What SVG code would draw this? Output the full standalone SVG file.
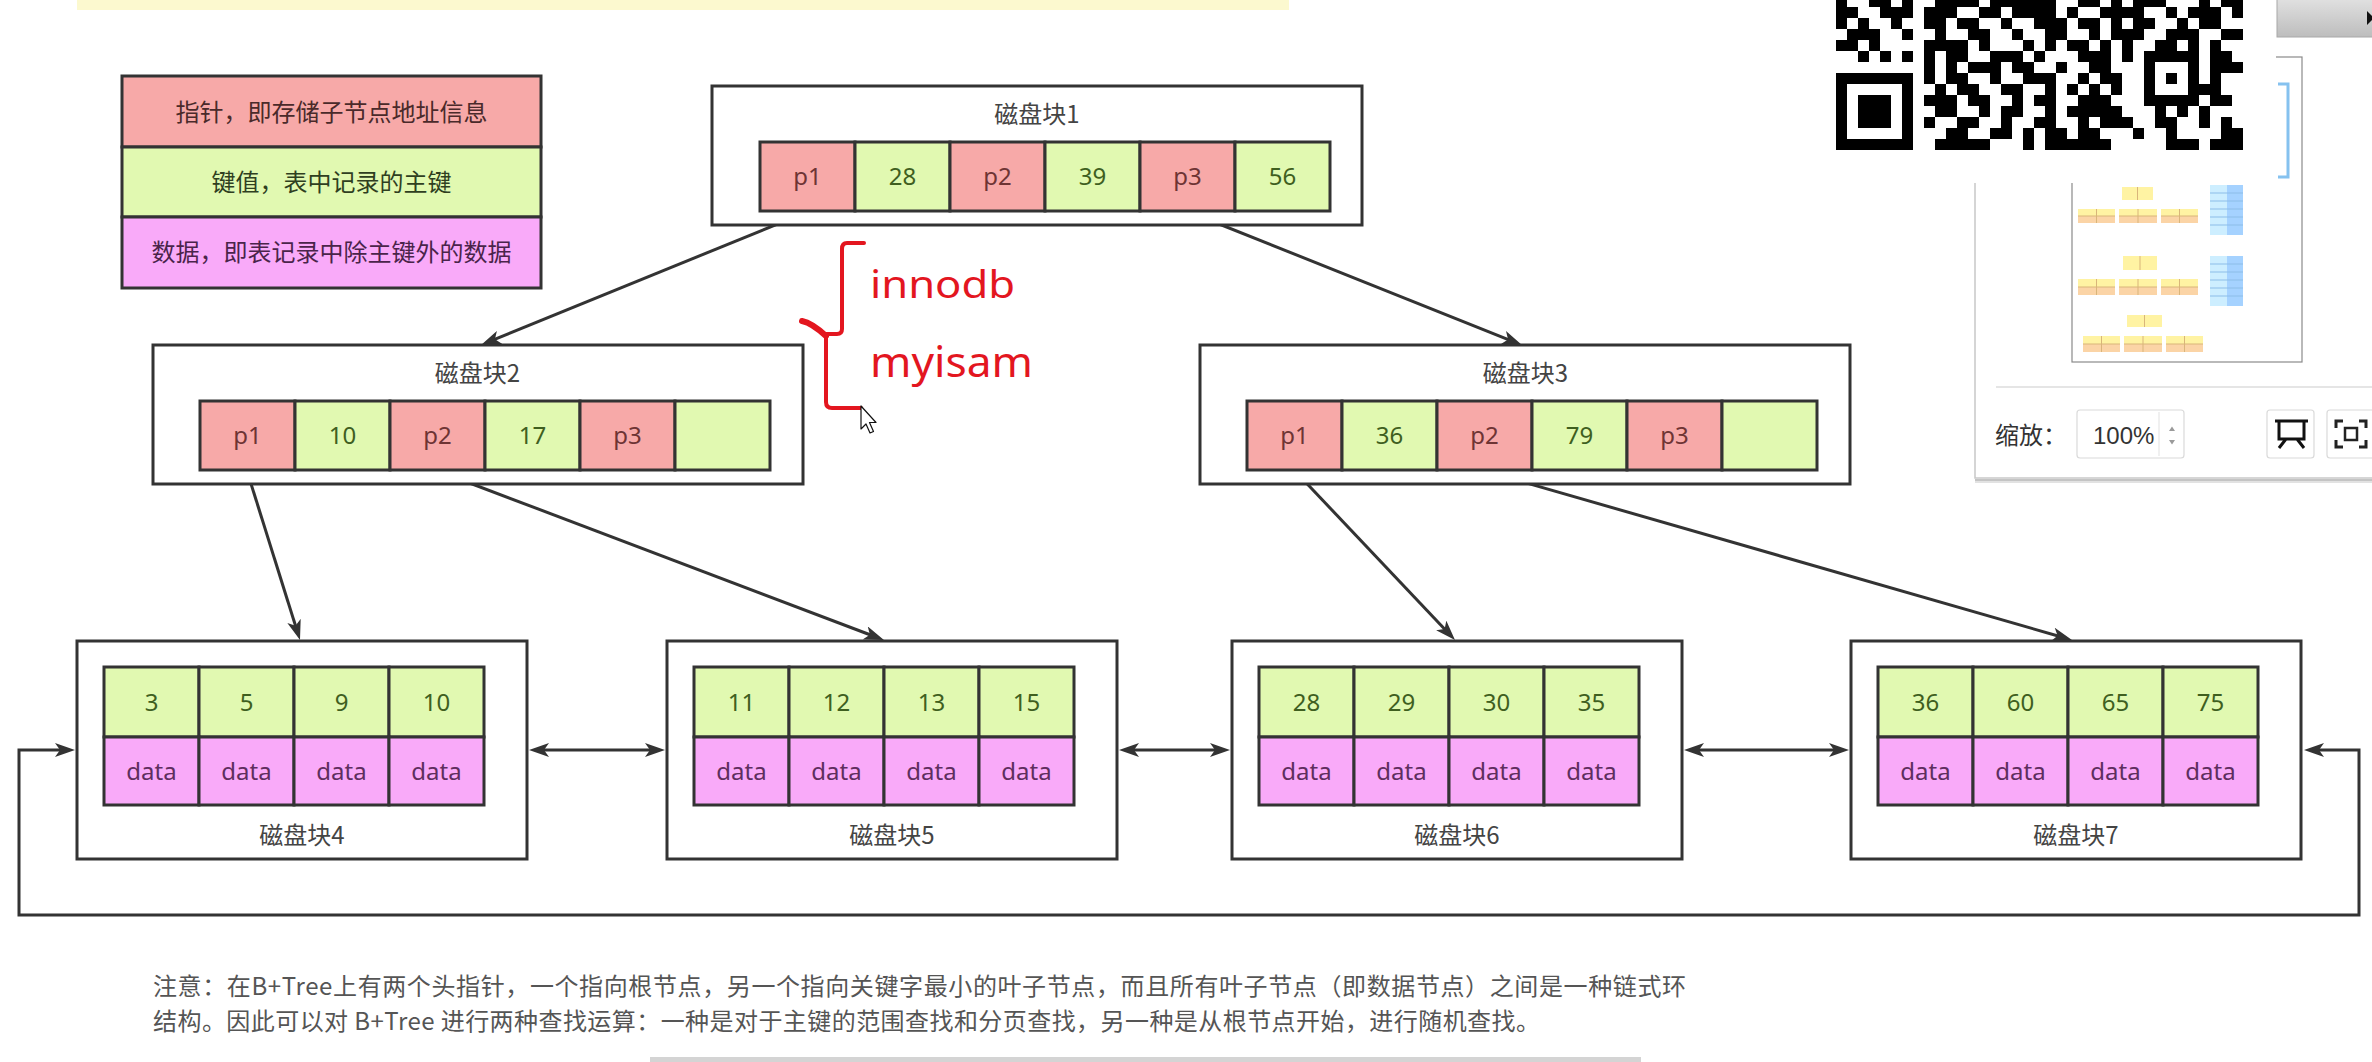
<svg xmlns="http://www.w3.org/2000/svg" width="2372" height="1062" viewBox="0 0 2372 1062">
<style>
.blk{fill:#fff;stroke:#333;stroke-width:3}
.pk{fill:#f7a9a8;stroke:#333;stroke-width:3}
.gn{fill:#e1f9b1;stroke:#333;stroke-width:3}
.mg{fill:#f9aaf9;stroke:#333;stroke-width:3}
.t{font-family:"Noto Sans","Noto Sans CJK SC",sans-serif;font-size:24px;text-anchor:middle}
.cj{font-family:"Noto Sans CJK SC",sans-serif;font-size:24px;text-anchor:middle;fill:#444}
.tp{fill:#6e3434}.tg{fill:#3f5f1f}.tm{fill:#5e2e5e}
.ln{fill:none;stroke:#333;stroke-width:3;stroke-linejoin:miter}
.red{fill:none;stroke:#e3161f;stroke-width:4;stroke-linecap:round;stroke-linejoin:round}
.rt{font-family:"Noto Sans","Liberation Sans",sans-serif;fill:#e3161f}
.mm-y{fill:#fff3a3}.mm-o{fill:#fbd4a6}.mm-l{stroke:#d9b57a;stroke-width:1;fill:none}
</style>
<defs>
<marker id="ar" viewBox="0 0 20 14" refX="10" refY="7" markerWidth="20" markerHeight="14" markerUnits="userSpaceOnUse" orient="auto-start-reverse">
<path d="M0,0 L20,7 L0,14 L5,7 z" fill="#333"/>
</marker>
<linearGradient id="btn" x1="0" y1="0" x2="0" y2="1"><stop offset="0" stop-color="#e4e4e4"/><stop offset="1" stop-color="#bdbdbd"/></linearGradient>
</defs>
<rect width="2372" height="1062" fill="#fff"/>
<rect x="77" y="0" width="1212" height="10" fill="#fcf9cf"/>

<!-- legend -->
<g id="legend">
<rect class="pk" x="122" y="76" width="419" height="71"/>
<rect class="gn" x="122" y="147" width="419" height="70"/>
<rect class="mg" x="122" y="217" width="419" height="71"/>
<text class="cj" x="331.5" y="121" style="fill:#4a2a2a">指针，即存储子节点地址信息</text>
<text class="cj" x="331.5" y="191" style="fill:#2f3f1f">键值，表中记录的主键</text>
<text class="cj" x="331.5" y="261" style="fill:#4a244a">数据，即表记录中除主键外的数据</text>
</g>

<!-- connectors -->
<g id="connectors">
<path class="ln" d="M807,212 L490.3,341.2" marker-end="url(#ar)"/>
<path class="ln" d="M1189,212 L1512.7,341.3" marker-end="url(#ar)"/>
<path class="ln" d="M247,471 L297,630.5" marker-end="url(#ar)"/>
<path class="ln" d="M438,471 L874.6,636.5" marker-end="url(#ar)"/>
<path class="ln" d="M1295,471 L1448.1,632.7" marker-end="url(#ar)"/>
<path class="ln" d="M1485,471 L2062.4,637.2" marker-end="url(#ar)"/>
<path class="ln" d="M539,750 L655,750" marker-start="url(#ar)" marker-end="url(#ar)"/>
<path class="ln" d="M1129,750 L1220,750" marker-start="url(#ar)" marker-end="url(#ar)"/>
<path class="ln" d="M1694,750 L1839,750" marker-start="url(#ar)" marker-end="url(#ar)"/>
<path class="ln" d="M65,750 L19,750 L19,915 L2359,915 L2359,750 L2314,750" marker-start="url(#ar)" marker-end="url(#ar)"/>
</g>

<!-- block 1 -->
<g id="block1">
<rect class="blk" x="712" y="86" width="650" height="139"/>
<text class="cj" x="1037" y="123">磁盘块1</text>
<rect class="pk" x="760" y="142" width="95" height="69"/>
<rect class="gn" x="855" y="142" width="95" height="69"/>
<rect class="pk" x="950" y="142" width="95" height="69"/>
<rect class="gn" x="1045" y="142" width="95" height="69"/>
<rect class="pk" x="1140" y="142" width="95" height="69"/>
<rect class="gn" x="1235" y="142" width="95" height="69"/>
<text class="t tp" x="807.5" y="185">p1</text>
<text class="t tg" x="902.5" y="185">28</text>
<text class="t tp" x="997.5" y="185">p2</text>
<text class="t tg" x="1092.5" y="185">39</text>
<text class="t tp" x="1187.5" y="185">p3</text>
<text class="t tg" x="1282.5" y="185">56</text>
</g>

<!-- block 2 -->
<g id="block2">
<rect class="blk" x="153" y="345" width="650" height="139"/>
<text class="cj" x="477.5" y="382">磁盘块2</text>
<rect class="pk" x="200" y="401" width="95" height="69"/>
<rect class="gn" x="295" y="401" width="95" height="69"/>
<rect class="pk" x="390" y="401" width="95" height="69"/>
<rect class="gn" x="485" y="401" width="95" height="69"/>
<rect class="pk" x="580" y="401" width="95" height="69"/>
<rect class="gn" x="675" y="401" width="95" height="69"/>
<text class="t tp" x="247.5" y="444">p1</text>
<text class="t tg" x="342.5" y="444">10</text>
<text class="t tp" x="437.5" y="444">p2</text>
<text class="t tg" x="532.5" y="444">17</text>
<text class="t tp" x="627.5" y="444">p3</text>
</g>

<!-- block 3 -->
<g id="block3">
<rect class="blk" x="1200" y="345" width="650" height="139"/>
<text class="cj" x="1525.5" y="382">磁盘块3</text>
<rect class="pk" x="1247" y="401" width="95" height="69"/>
<rect class="gn" x="1342" y="401" width="95" height="69"/>
<rect class="pk" x="1437" y="401" width="95" height="69"/>
<rect class="gn" x="1532" y="401" width="95" height="69"/>
<rect class="pk" x="1627" y="401" width="95" height="69"/>
<rect class="gn" x="1722" y="401" width="95" height="69"/>
<text class="t tp" x="1294.5" y="444">p1</text>
<text class="t tg" x="1389.5" y="444">36</text>
<text class="t tp" x="1484.5" y="444">p2</text>
<text class="t tg" x="1579.5" y="444">79</text>
<text class="t tp" x="1674.5" y="444">p3</text>
</g>

<!-- block 4 -->
<g id="block4">
<rect class="blk" x="77" y="641" width="450" height="218"/>
<rect class="gn" x="104" y="667" width="95" height="70"/><rect class="gn" x="199" y="667" width="95" height="70"/><rect class="gn" x="294" y="667" width="95" height="70"/><rect class="gn" x="389" y="667" width="95" height="70"/>
<rect class="mg" x="104" y="737" width="95" height="68"/><rect class="mg" x="199" y="737" width="95" height="68"/><rect class="mg" x="294" y="737" width="95" height="68"/><rect class="mg" x="389" y="737" width="95" height="68"/>
<text class="t tg" x="151.5" y="711">3</text><text class="t tg" x="246.5" y="711">5</text><text class="t tg" x="341.5" y="711">9</text><text class="t tg" x="436.5" y="711">10</text>
<text class="t tm" x="151.5" y="780">data</text><text class="t tm" x="246.5" y="780">data</text><text class="t tm" x="341.5" y="780">data</text><text class="t tm" x="436.5" y="780">data</text>
<text class="cj" x="302" y="844">磁盘块4</text>
</g>

<!-- block 5 -->
<g id="block5">
<rect class="blk" x="667" y="641" width="450" height="218"/>
<rect class="gn" x="694" y="667" width="95" height="70"/><rect class="gn" x="789" y="667" width="95" height="70"/><rect class="gn" x="884" y="667" width="95" height="70"/><rect class="gn" x="979" y="667" width="95" height="70"/>
<rect class="mg" x="694" y="737" width="95" height="68"/><rect class="mg" x="789" y="737" width="95" height="68"/><rect class="mg" x="884" y="737" width="95" height="68"/><rect class="mg" x="979" y="737" width="95" height="68"/>
<text class="t tg" x="741.5" y="711">11</text><text class="t tg" x="836.5" y="711">12</text><text class="t tg" x="931.5" y="711">13</text><text class="t tg" x="1026.5" y="711">15</text>
<text class="t tm" x="741.5" y="780">data</text><text class="t tm" x="836.5" y="780">data</text><text class="t tm" x="931.5" y="780">data</text><text class="t tm" x="1026.5" y="780">data</text>
<text class="cj" x="892" y="844">磁盘块5</text>
</g>

<!-- block 6 -->
<g id="block6">
<rect class="blk" x="1232" y="641" width="450" height="218"/>
<rect class="gn" x="1259" y="667" width="95" height="70"/><rect class="gn" x="1354" y="667" width="95" height="70"/><rect class="gn" x="1449" y="667" width="95" height="70"/><rect class="gn" x="1544" y="667" width="95" height="70"/>
<rect class="mg" x="1259" y="737" width="95" height="68"/><rect class="mg" x="1354" y="737" width="95" height="68"/><rect class="mg" x="1449" y="737" width="95" height="68"/><rect class="mg" x="1544" y="737" width="95" height="68"/>
<text class="t tg" x="1306.5" y="711">28</text><text class="t tg" x="1401.5" y="711">29</text><text class="t tg" x="1496.5" y="711">30</text><text class="t tg" x="1591.5" y="711">35</text>
<text class="t tm" x="1306.5" y="780">data</text><text class="t tm" x="1401.5" y="780">data</text><text class="t tm" x="1496.5" y="780">data</text><text class="t tm" x="1591.5" y="780">data</text>
<text class="cj" x="1457" y="844">磁盘块6</text>
</g>

<!-- block 7 -->
<g id="block7">
<rect class="blk" x="1851" y="641" width="450" height="218"/>
<rect class="gn" x="1878" y="667" width="95" height="70"/><rect class="gn" x="1973" y="667" width="95" height="70"/><rect class="gn" x="2068" y="667" width="95" height="70"/><rect class="gn" x="2163" y="667" width="95" height="70"/>
<rect class="mg" x="1878" y="737" width="95" height="68"/><rect class="mg" x="1973" y="737" width="95" height="68"/><rect class="mg" x="2068" y="737" width="95" height="68"/><rect class="mg" x="2163" y="737" width="95" height="68"/>
<text class="t tg" x="1925.5" y="711">36</text><text class="t tg" x="2020.5" y="711">60</text><text class="t tg" x="2115.5" y="711">65</text><text class="t tg" x="2210.5" y="711">75</text>
<text class="t tm" x="1925.5" y="780">data</text><text class="t tm" x="2020.5" y="780">data</text><text class="t tm" x="2115.5" y="780">data</text><text class="t tm" x="2210.5" y="780">data</text>
<text class="cj" x="2076" y="844">磁盘块7</text>
</g>

<!-- red annotation -->
<g id="annotation">
<path class="red" d="M864,243 L847,243 Q842,243 842,249 L842,329 Q842,334 837,334 L826,334"/>
<path class="red" style="stroke-width:6" d="M802,321 Q812,323 826,336"/>
<path class="red" d="M826,336 L826,402 Q826,408 832,408 L861,408"/>
<text class="rt" x="870" y="298" font-size="39" textLength="145" lengthAdjust="spacingAndGlyphs">innodb</text>
<text class="rt" x="870" y="377" font-size="42" textLength="163" lengthAdjust="spacingAndGlyphs">myisam</text>
<path d="M861,406 L861,429 L866,424 L870,433 L873.5,431.5 L869.5,422.5 L876,422.5 Z" fill="#fff" stroke="#111" stroke-width="1.2" stroke-linejoin="round"/>
</g>

<!-- note text -->
<g id="note" font-family="'Noto Sans CJK SC',sans-serif" font-size="24" fill="#555">
<text x="153" y="995" textLength="1533" lengthAdjust="spacing">注意：在B+Tree上有两个头指针，一个指向根节点，另一个指向关键字最小的叶子节点，而且所有叶子节点（即数据节点）之间是一种链式环</text>
<text x="153" y="1030" textLength="1387" lengthAdjust="spacing">结构。因此可以对 B+Tree 进行两种查找运算：一种是对于主键的范围查找和分页查找，另一种是从根节点开始，进行随机查找。</text>
</g>
<rect x="650" y="1057" width="991" height="5" fill="#d4d4d4"/>

<!-- outline panel -->
<g id="outline-panel">
<rect x="1975" y="-10" width="410" height="488" fill="#fff" stroke="#c8c8c8" stroke-width="1.5"/>
<rect x="1975" y="479" width="397" height="2" fill="#c4c4c4"/>
<rect x="1975" y="481" width="397" height="2" fill="#e2e2e2"/>
<rect x="2072" y="57" width="230" height="305" fill="#fff" stroke="#8a8a8a" stroke-width="1.2"/>
<g>
<rect class="mm-y" x="2122" y="187" width="31" height="13"/><line class="mm-l" x1="2137.5" y1="187" x2="2137.5" y2="200"/>
<rect class="mm-y" x="2078" y="209" width="37" height="7"/><rect class="mm-o" x="2078" y="216" width="37" height="7"/>
<rect class="mm-y" x="2119" y="209" width="38" height="7"/><rect class="mm-o" x="2119" y="216" width="38" height="7"/>
<rect class="mm-y" x="2161" y="209" width="37" height="7"/><rect class="mm-o" x="2161" y="216" width="37" height="7"/>
<path class="mm-l" d="M2078,216H2115M2119,216H2157M2161,216H2198M2096.5,209V223M2138,209V223M2179.5,209V223"/>
<rect x="2210" y="185" width="17" height="50" fill="#cdeeff"/><rect x="2227" y="185" width="16" height="50" fill="#a5d2ff"/>
<path d="M2210,193H2243M2210,201H2243M2210,209H2243M2210,217H2243M2210,225H2243" stroke="#8cbde8" stroke-width="1"/>
<rect class="mm-y" x="2123" y="256" width="34" height="14"/><line class="mm-l" x1="2140" y1="256" x2="2140" y2="270"/>
<rect class="mm-y" x="2078" y="279" width="37" height="8"/><rect class="mm-o" x="2078" y="287" width="37" height="8"/>
<rect class="mm-y" x="2119" y="279" width="38" height="8"/><rect class="mm-o" x="2119" y="287" width="38" height="8"/>
<rect class="mm-y" x="2161" y="279" width="37" height="8"/><rect class="mm-o" x="2161" y="287" width="37" height="8"/>
<path class="mm-l" d="M2078,287H2115M2119,287H2157M2161,287H2198M2096.5,279V295M2138,279V295M2179.5,279V295"/>
<rect x="2210" y="256" width="17" height="50" fill="#cdeeff"/><rect x="2227" y="256" width="16" height="50" fill="#a5d2ff"/>
<path d="M2210,264H2243M2210,272H2243M2210,280H2243M2210,288H2243M2210,296H2243" stroke="#8cbde8" stroke-width="1"/>
<rect class="mm-y" x="2127" y="315" width="35" height="12"/><line class="mm-l" x1="2144.5" y1="315" x2="2144.5" y2="327"/>
<rect class="mm-y" x="2083" y="336" width="37" height="8"/><rect class="mm-o" x="2083" y="344" width="37" height="8"/>
<rect class="mm-y" x="2124" y="336" width="38" height="8"/><rect class="mm-o" x="2124" y="344" width="38" height="8"/>
<rect class="mm-y" x="2166" y="336" width="37" height="8"/><rect class="mm-o" x="2166" y="344" width="37" height="8"/>
<path class="mm-l" d="M2083,344H2120M2124,344H2162M2166,344H2203M2101.5,336V352M2143,336V352M2184.5,336V352"/>
</g>
<line x1="1996" y1="387" x2="2372" y2="387" stroke="#dcdcdc" stroke-width="1.5"/>
<text x="1995" y="444" font-family="'Noto Sans CJK SC',sans-serif" font-size="24" fill="#333">缩放：</text>
<rect x="2077" y="410" width="107" height="48" rx="3" fill="#fff" stroke="#dadada" stroke-width="1.2"/>
<line x1="2159" y1="412" x2="2159" y2="456" stroke="#e6e6e6" stroke-width="1.2"/>
<text x="2093" y="443.5" font-family="'Liberation Sans',sans-serif" font-size="24" fill="#333">100%</text>
<path d="M2169,431 L2172,426.5 L2175,431 Z M2169,440 L2172,444.5 L2175,440 Z" fill="#9a9a9a"/>
<rect x="2267" y="410" width="47" height="48" rx="3" fill="#fff" stroke="#dadada" stroke-width="1.2"/>
<path d="M2275,421 H2308 M2279,421 V439 H2304 V421 M2286,439 L2279,448 M2297,439 L2304,448" fill="none" stroke="#111" stroke-width="3"/>
<rect x="2327" y="410" width="60" height="48" rx="3" fill="#fff" stroke="#dadada" stroke-width="1.2"/>
<path d="M2343,421 H2336 V428 M2359,421 H2366 V428 M2343,447 H2336 V440 M2359,447 H2366 V440" fill="none" stroke="#222" stroke-width="3"/>
<rect x="2345" y="428" width="12" height="12" fill="none" stroke="#222" stroke-width="2.5"/>
</g>

<!-- QR code overlay -->
<g id="qr-code">
<rect x="1822" y="0" width="454" height="183" fill="#fff"/>
<path fill="#000" shape-rendering="crispEdges" d="
M1836 -4h11v11h-11z M1869 -4h22v11h-22z M1902 -4h11v11h-11z M1935 -4h44v11h-44z M1990 -4h66v11h-66z M2078 -4h22v11h-22z M2111 -4h11v11h-11z M2133 -4h33v11h-33z M2199 -4h11v11h-11z M2221 -4h22v11h-22z
M1836 7h22v11h-22z M1880 7h33v11h-33z M1924 7h33v11h-33z M1979 7h22v11h-22z M2012 7h44v11h-44z M2067 7h11v11h-11z M2100 7h44v11h-44z M2166 7h11v11h-11z M2188 7h33v11h-33z M2232 7h11v11h-11z
M1836 18h11v11h-11z M1858 18h11v11h-11z M1891 18h11v11h-11z M1924 18h22v11h-22z M1957 18h22v11h-22z M2001 18h11v11h-11z M2034 18h33v11h-33z M2078 18h22v11h-22z M2111 18h11v11h-11z M2133 18h22v11h-22z M2177 18h11v11h-11z M2199 18h22v11h-22z
M1847 29h33v11h-33z M1902 29h11v11h-11z M1935 29h11v11h-11z M1968 29h22v11h-22z M2012 29h11v11h-11z M2045 29h22v11h-22z M2089 29h11v11h-11z M2111 29h33v11h-33z M2166 29h33v11h-33z M2221 29h22v11h-22z
M1836 40h22v11h-22z M1869 40h11v11h-11z M1924 40h44v11h-44z M1979 40h11v11h-11z M2023 40h11v11h-11z M2045 40h11v11h-11z M2067 40h22v11h-22z M2100 40h11v11h-11z M2122 40h11v11h-11z M2155 40h22v11h-22z M2188 40h11v11h-11z M2210 40h11v11h-11z
M1858 51h11v11h-11z M1880 51h11v11h-11z M1902 51h11v11h-11z M1924 51h11v11h-11z M1946 51h22v11h-22z M1990 51h33v11h-33z M2034 51h11v11h-11z M2078 51h33v11h-33z M2122 51h11v11h-11z M2144 51h55v11h-55z M2210 51h22v11h-22z
M1924 62h11v11h-11z M1946 62h11v11h-11z M1968 62h33v11h-33z M2012 62h22v11h-22z M2056 62h11v11h-11z M2089 62h22v11h-22z M2144 62h11v11h-11z M2188 62h11v11h-11z M2210 62h33v11h-33z
M1836 73h77v11h-77z M1924 73h11v11h-11z M1946 73h22v11h-22z M1990 73h11v11h-11z M2023 73h33v11h-33z M2078 73h11v11h-11z M2100 73h22v11h-22z M2144 73h11v11h-11z M2166 73h11v11h-11z M2188 73h11v11h-11z M2210 73h11v11h-11z
M1836 84h11v11h-11z M1902 84h11v11h-11z M1935 84h11v11h-11z M1957 84h22v11h-22z M2001 84h22v11h-22z M2045 84h11v11h-11z M2067 84h11v11h-11z M2089 84h11v11h-11z M2111 84h11v11h-11z M2144 84h11v11h-11z M2188 84h33v11h-33z
M1836 95h11v11h-11z M1858 95h33v11h-33z M1902 95h11v11h-11z M1924 95h33v11h-33z M1968 95h22v11h-22z M2012 95h11v11h-11z M2034 95h22v11h-22z M2078 95h33v11h-33z M2144 95h55v11h-55z M2210 95h22v11h-22z
M1836 106h11v11h-11z M1858 106h33v11h-33z M1902 106h11v11h-11z M1935 106h22v11h-22z M1979 106h11v11h-11z M2001 106h22v11h-22z M2045 106h11v11h-11z M2067 106h55v11h-55z M2155 106h11v11h-11z M2177 106h11v11h-11z M2199 106h11v11h-11z
M1836 117h11v11h-11z M1858 117h33v11h-33z M1902 117h11v11h-11z M1924 117h11v11h-11z M1957 117h22v11h-22z M2001 117h11v11h-11z M2034 117h22v11h-22z M2078 117h11v11h-11z M2100 117h33v11h-33z M2155 117h22v11h-22z M2199 117h11v11h-11z M2221 117h11v11h-11z
M1836 128h11v11h-11z M1902 128h11v11h-11z M1946 128h22v11h-22z M1990 128h22v11h-22z M2023 128h11v11h-11z M2045 128h22v11h-22z M2078 128h22v11h-22z M2133 128h11v11h-11z M2166 128h11v11h-11z M2221 128h22v11h-22z
M1836 139h77v11h-77z M1935 139h55v11h-55z M2023 139h11v11h-11z M2045 139h66v11h-66z M2166 139h33v11h-33z M2210 139h33v11h-33z"/>
</g>

<!-- top-right button and viewport marker -->
<g id="toolbar-button">
<rect x="2277" y="-5" width="100" height="42" fill="url(#btn)" stroke="#a8a8a8" stroke-width="1"/>
<path d="M2367,11 L2374,18 L2367,25 Z" fill="#111"/>
</g>
<path d="M2278,84 H2288 V177 H2278" fill="none" stroke="#86c2ef" stroke-width="3"/>
</svg>
